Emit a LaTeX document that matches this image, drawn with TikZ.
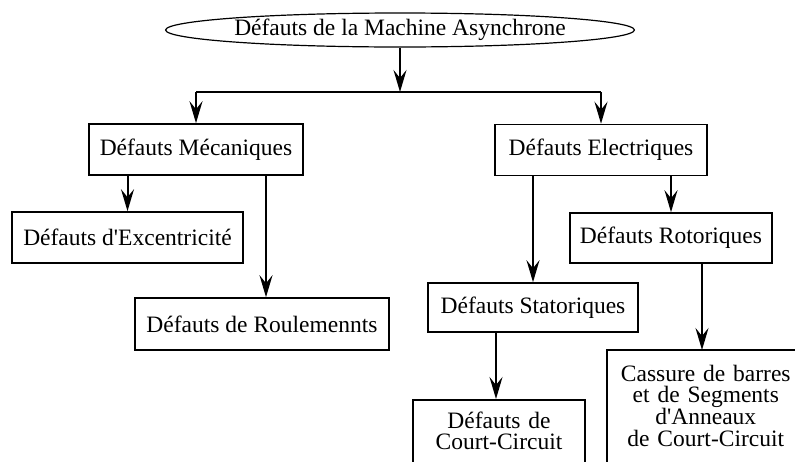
\documentclass[tikz,border=0pt]{standalone}
\usepackage{fontspec}
\setmainfont{Liberation Serif}
\usetikzlibrary{arrows.meta,shapes.geometric}

\tikzset{
  faultbox/.style={draw, line width=1.6pt, inner sep=0pt, align=center,
    font=\fontsize{23.5}{21.3}\selectfont},
  opentext/.style={faultbox, draw=none},
  frame/.style={line width=1.6pt},
  rootshape/.style={draw, ellipse, line width=1.2pt, inner sep=0pt,
    minimum width=410pt, minimum height=34pt,
    font=\fontsize{23.5}{21.3}\selectfont},
  wire/.style={line width=2pt},
  arr/.style={wire, -{Stealth[length=22pt, width=13pt, inset=8pt]}}
}
% deep strut: lets the lowest boxes run past the lower edge
\newcommand{\deepline}{\rule[-14pt]{0pt}{14pt}}

\begin{document}
\begin{tikzpicture}[x=1pt, y=-1pt]
  \useasboundingbox (0,0) rectangle (795,461);
  \clip (0,0) rectangle (795,461);

  % root of the tree
  \node[rootshape] (root) at (400,30) {Défauts de la Machine Asynchrone};

  % first level
  \node[faultbox, minimum width=214pt, minimum height=51pt] (mec) at (196,149.5) {Défauts Mécaniques};
  \node[faultbox, minimum width=212pt, minimum height=51pt] (elec) at (601,150) {Défauts Electriques};

  % mechanical faults
  \node[faultbox, minimum width=231pt, minimum height=51pt] (exc) at (127.5,237.5) {Défauts d\textquotesingle Excentricité};
  \node[faultbox, minimum width=254pt, minimum height=52pt] (roul) at (262,324) {Défauts de Roulemennts};

  % electrical faults
  \node[faultbox, minimum width=210pt, minimum height=49pt] (stat) at (533,307.5) {Défauts Statoriques};
  \node[faultbox, minimum width=202pt, minimum height=50pt] (rot) at (671,238) {Défauts Rotoriques};

  % leaves
  \node[faultbox, anchor=north, minimum width=172pt, text width=172pt, inner ysep=12pt] (cc) at (499,399)
    {Défauts de\\Court-Circuit\deepline};
  \node[opentext, anchor=north west, text width=196pt, inner ysep=14pt] (cass) at (607,350)
    {Cassure de barres\\et de Segments\\d\textquotesingle Anneaux\\de Court-Circuit\deepline};
  % its frame runs off past the right edge
  \draw[frame] (cass.south west) -- (cass.north west) -- ([xshift=30pt]cass.north east);

  % connectors
  \coordinate (split) at (400,92);
  \draw[arr] (root.south) -- (split);
  \draw[wire] (mec.north |- split) -- (elec.north |- split);
  \draw[arr] (mec.north |- split) -- (mec.north);
  \draw[arr] (elec.north |- split) -- (elec.north);

  \draw[arr] (mec.south -| exc.north) -- (exc.north);
  \coordinate (roulin) at (266,0);
  \draw[arr] (mec.south -| roulin) -- (roul.north -| roulin);

  \draw[arr] (elec.south -| stat.north) -- (stat.north);
  \draw[arr] (elec.south -| rot.north) -- (rot.north);

  \coordinate (ccin) at (496,0);
  \draw[arr] (stat.south -| ccin) -- (cc.north -| ccin);
  \coordinate (cassin) at (702,0);
  \draw[arr] (rot.south -| cassin) -- (cass.north -| cassin);
\end{tikzpicture}
\end{document}
